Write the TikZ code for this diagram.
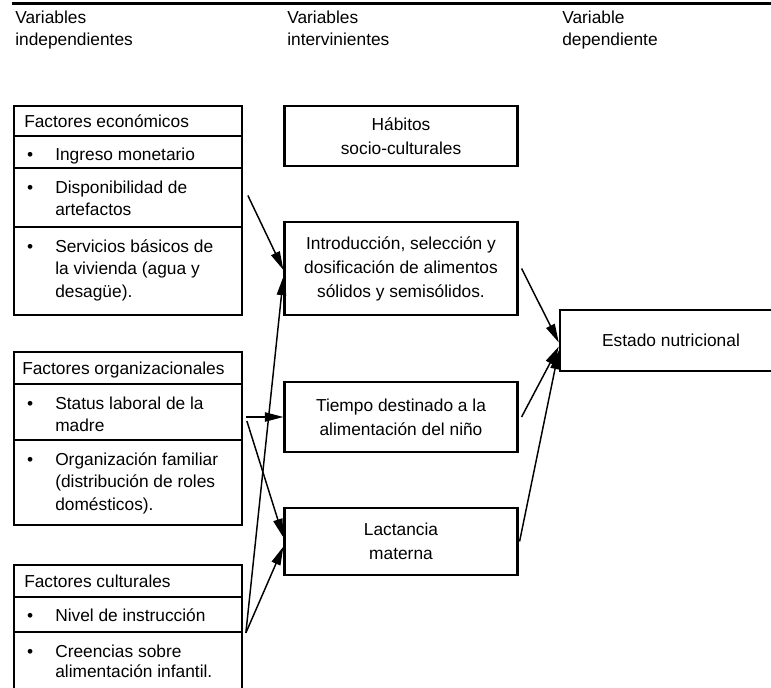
\documentclass[tikz,border=0pt]{standalone}
\usepackage{fontspec}
\setmainfont{Liberation Sans}
\usetikzlibrary{arrows.meta,calc}
\newcommand\bul{\llap{\textbullet\hspace{16.5pt}}}
\begin{document}
\begin{tikzpicture}[x=0.75pt,y=-0.75pt,
  txt/.style={inner sep=0pt, font=\fontsize{13pt}{16.9pt}\selectfont},
  colhead/.style={txt, anchor=north west, align=left, font=\fontsize{13pt}{16.5pt}\selectfont},
  head/.style={draw, line width=1.7pt, minimum width=171pt, inner sep=0pt},
  headtext/.style={txt, anchor=base west},
  rowbox/.style={draw, line width=1.3pt, minimum width=171pt, inner sep=0pt},
  rowtext/.style={txt, anchor=north west, align=left},
  midbox/.style={draw, line width=1.6pt, minimum width=174.75pt, inner sep=0pt,
    align=center, font=\fontsize{13pt}{18pt}\selectfont},
  link/.style={line width=1.1pt, -{Triangle[length=14pt,width=7pt]}}
]
\useasboundingbox (0,0) rectangle (771,688);
\clip (0,0) rectangle (771,688);

% rule across the top
\draw[line width=1.9pt] (12,3.5) -- (775,3.5);

% column titles
\node[colhead] (hind) at (15,10.5) {Variables\\independientes};
\node[colhead] (hint) at (287,10.5) {Variables\\intervinientes};
\node[colhead] (hdep) at (562,10.5) {Variable\\dependiente};

% ---- economic factors
\node[rowbox, minimum height=24pt] (ingreso) at (128,152) {};
\node[rowbox, minimum height=44.25pt] (disp) at (128,197.5) {};
\node[rowbox, minimum height=66pt] (serv) at (128,271) {};
\node[head, minimum height=22.5pt] (econ) at (128,121) {};
\node[headtext] (econT) at (24,127.2) {Factores económicos};
\node[rowtext] (ingresoT) at (55,147.4) {\bul Ingreso monetario};
\node[rowtext] (dispT) at (55,180.4) {\bul Disponibilidad de\\artefactos};
\node[rowtext] (servT) at (55,239.4) {\bul Servicios básicos de\\la vivienda (agua y\\desagüe).};

% ---- organisational factors
\node[rowbox, minimum height=42pt] (status) at (128,412) {};
\node[rowbox, minimum height=63.75pt] (orgfam) at (128,482.5) {};
\node[head, minimum height=24pt] (org) at (128,368) {};
\node[headtext] (orgT) at (22,374) {Factores organizacionales};
\node[rowtext] (statusT) at (55,396.4) {\bul Status laboral de la\\madre};
\node[rowtext] (orgfamT) at (55,452.4) {\bul Organización familiar\\(distribución de roles\\domésticos).};

% ---- cultural factors
\node[rowbox, minimum height=26.25pt] (nivel) at (128,614.5) {};
\node[rowbox, minimum height=51pt] (creen) at (128,666) {};
\node[head, minimum height=24pt] (cult) at (128,581) {};
\node[headtext] (cultT) at (24,587) {Factores culturales};
\node[rowtext] (nivelT) at (55,608.4) {\bul Nivel de instrucción};
\node[rowtext, font=\fontsize{13pt}{15pt}\selectfont] (creenT) at (55,644.4) {\bul Creencias sobre\\alimentación infantil.};

% ---- intervening variables
\node[midbox, minimum height=45pt] (habitos) at (401,136) {Hábitos\\socio-culturales};
\node[midbox, minimum height=69.75pt] (intro) at (401,268.5) {Introducción, selección y\\dosificación de alimentos\\sólidos y semisólidos.};
\node[midbox, minimum height=52.5pt] (tiempo) at (401,417) {Tiempo destinado a la\\alimentación del niño};
\node[midbox, minimum height=50.25pt] (lact) at (401,541.5) {Lactancia\\materna};

% ---- dependent variable
\node[draw, line width=1.8pt, minimum width=166.5pt, minimum height=45.75pt,
  inner sep=0pt, txt] (estado) at (671,340.5) {Estado nutricional};

% ---- influences
\draw[link] ($(disp.east)+(5,-2)$) -- ($(intro.west)+(0,1.5)$);
\draw[link] ($(nivel.south east)+(3,0)$) -- ($(intro.west)+(0,8)$);
\draw[link] ($(status.east)+(3,5)$) -- (tiempo.west);
\draw[link] ($(status.east)+(4,9)$) -- ($(lact.west)+(0,-4)$);
\draw[link] ($(nivel.south east)+(3,0)$) -- ($(lact.west)+(0,5)$);
\draw[link] ($(intro.east)+(3,0)$) -- ($(estado.west)+(0,2)$);
\draw[link] ($(tiempo.east)+(3,0)$) -- ($(estado.west)+(0,6)$);
\draw[link] ($(lact.east)+(1,0)$) -- ($(estado.west)+(0,10)$);
\end{tikzpicture}
\end{document}
